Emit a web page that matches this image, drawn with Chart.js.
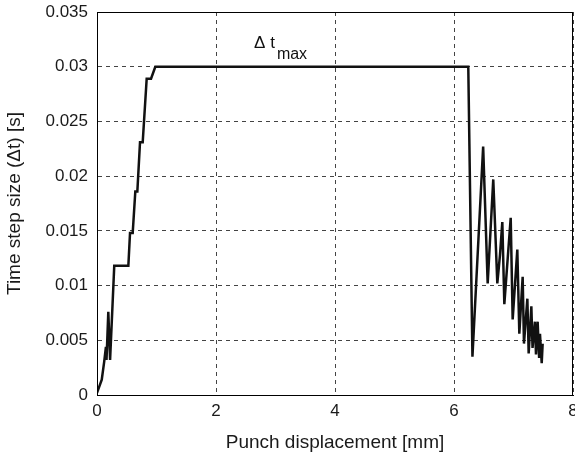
<!DOCTYPE html>
<html>
<head>
<meta charset="utf-8">
<script src="https://cdn.jsdelivr.net/npm/chart.js@4/dist/chart.umd.min.js"></script>
<style>
  body { margin: 0; background: #fff; }
</style>
</head>
<body>
<canvas id="stepChart" width="575" height="460"></canvas>
<script>
// Punch displacement [mm] and time step size [s]
const displacement = [
  0, 0.08, 0.12, 0.15, 0.16, 0.19, 0.22, 0.29, 0.527, 0.555, 0.6, 0.644, 0.678,
  0.723, 0.768, 0.835, 0.908, 0.98, 6.24, 6.31, 6.49, 6.566, 6.66, 6.728, 6.773,
  6.812, 6.846, 6.953, 6.986, 7.064, 7.098, 7.154, 7.176, 7.233, 7.255, 7.3, 7.32,
  7.36, 7.378, 7.406, 7.43, 7.445, 7.474, 7.49
];
const stepSize = [
  0.0002, 0.0014, 0.003, 0.0044, 0.0032, 0.0076, 0.0032, 0.0118, 0.0118, 0.0148, 0.0148, 0.0186, 0.0186,
  0.0231, 0.0231, 0.0289, 0.0289, 0.03, 0.03, 0.0035, 0.0227, 0.0102, 0.0197, 0.0102, 0.0128,
  0.0158, 0.0083, 0.0162, 0.0069, 0.0133, 0.0056, 0.0108, 0.0047, 0.0088, 0.0038, 0.0081, 0.0043,
  0.0067, 0.0037, 0.0067, 0.0035, 0.0056, 0.0029, 0.0047
];
const xTicks = [0, 2, 4, 6, 8];
const yTicks = [0, 0.005, 0.01, 0.015, 0.02, 0.025, 0.03, 0.035];
const dtMax = 0.03;
const dtMaxLabelX = 2.64;

const points = displacement.map((x, i) => ({ x: x, y: stepSize[i] }));
const fontFamily = "'Liberation Sans', Arial, Helvetica, sans-serif";

// box around the plot area plus the "Δt max" note
const framePlugin = {
  id: "frame",
  afterDraw(chart) {
    const { ctx, chartArea, scales } = chart;
    ctx.save();
    ctx.strokeStyle = "#000";
    ctx.lineWidth = 1;
    ctx.strokeRect(chartArea.left + 0.5, chartArea.top + 0.5,
      chartArea.right - chartArea.left - 1, chartArea.bottom - chartArea.top);

    const x = scales.x.getPixelForValue(dtMaxLabelX);
    const y = scales.y.getPixelForValue(dtMax);
    ctx.fillStyle = "#111";
    ctx.textBaseline = "alphabetic";
    ctx.font = "17px " + fontFamily;
    ctx.fillText("\u0394 t", x, y - 19);
    const w = ctx.measureText("\u0394 t").width;
    ctx.font = "16px " + fontFamily;
    ctx.fillText("max", x + w + 2, y - 8);
    ctx.restore();
  },
};

const gridStyle = { color: "#444", lineWidth: 1, drawTicks: false };

new Chart(document.getElementById("stepChart"), {
  type: "line",
  data: {
    datasets: [
      {
        data: points,
        borderColor: "#111",
        borderWidth: 2.5,
        pointRadius: 0,
        tension: 0,
        fill: false,
      },
    ],
  },
  options: {
    responsive: false,
    animation: false,
    layout: { padding: { top: 12, right: 2, left: 0, bottom: 0 } },
    plugins: { legend: { display: false }, tooltip: { enabled: false } },
    scales: {
      x: {
        type: "linear",
        min: 0,
        max: 8,
        afterBuildTicks: (scale) => { scale.ticks = xTicks.map((v) => ({ value: v })); },
        afterFit: (scale) => { scale.height = 65; scale.paddingLeft = 0; scale.paddingRight = 0; },
        ticks: { color: "#1a1a1a", padding: 6, maxRotation: 0, font: { size: 17, family: fontFamily } },
        grid: gridStyle,
        border: { display: true, color: "#000", width: 1, dash: [4, 4] },
        title: {
          display: true,
          text: "Punch displacement [mm]",
          color: "#1a1a1a",
          font: { size: 19, family: fontFamily },
          padding: { top: 0, bottom: 6 },
        },
      },
      y: {
        min: 0,
        max: 0.035,
        afterBuildTicks: (scale) => { scale.ticks = yTicks.map((v) => ({ value: v })); },
        afterFit: (scale) => { scale.width = 97; scale.paddingTop = 0; scale.paddingBottom = 0; },
        ticks: {
          color: "#1a1a1a",
          padding: 9,
          font: { size: 17, family: fontFamily },
          callback: (v) => String(Number(v.toFixed(3))),
        },
        grid: gridStyle,
        border: { display: true, color: "#000", width: 1, dash: [4, 4] },
        title: {
          display: true,
          text: "Time step size (\u0394t) [s]",
          color: "#1a1a1a",
          font: { size: 19, family: fontFamily },
          padding: { top: 3, bottom: 0 },
        },
      },
    },
  },
  plugins: [framePlugin],
});
</script>
</body>
</html>
